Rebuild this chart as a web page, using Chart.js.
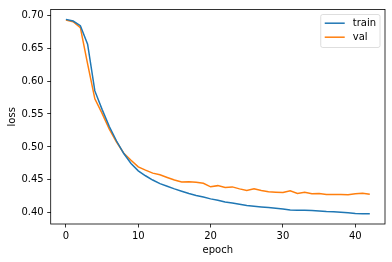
<!DOCTYPE html>
<html>
<head>
<meta charset="utf-8">
<script src="https://cdn.jsdelivr.net/npm/chart.js@4/dist/chart.umd.min.js"></script>
<style>
  html, body { margin: 0; padding: 0; background: #fff; }
  #wrap { width: 392px; height: 262px; }
</style>
</head>
<body>
<div id="wrap"><canvas id="c" width="392" height="262"></canvas></div>
<script>
const epochs = [0,1,2,3,4,5,6,7,8,9,10,11,12,13,14,15,16,17,18,19,20,21,22,23,24,25,26,27,28,29,30,31,32,33,34,35,36,37,38,39,40,41,42];
const trainLoss = [0.6935,0.691,0.684,0.656,0.585,0.557,0.531,0.509,0.490,0.4748,0.4637,0.4563,0.4498,0.4443,0.4403,0.4364,0.4328,0.4294,0.4264,0.4239,0.4212,0.419,0.4164,0.415,0.413,0.411,0.410,0.409,0.408,0.407,0.406,0.4045,0.404,0.404,0.4036,0.403,0.402,0.4015,0.401,0.400,0.399,0.3985,0.3985];
const valLoss = [0.6925,0.690,0.681,0.626,0.573,0.551,0.527,0.5075,0.4905,0.4797,0.4697,0.4648,0.4603,0.4578,0.4537,0.4498,0.4469,0.4473,0.4463,0.4448,0.4395,0.4413,0.4384,0.4394,0.4364,0.4339,0.4364,0.4339,0.4319,0.4313,0.4309,0.4334,0.4294,0.4313,0.429,0.4294,0.4279,0.4279,0.4279,0.4275,0.429,0.4299,0.4284];
const seriesNames = ['train', 'val'];
const xTickValues = [0, 10, 20, 30, 40];
const yTickValues = [0.40, 0.45, 0.50, 0.55, 0.60, 0.65, 0.70];
const xTitle = 'epoch';
const yTitle = 'loss';

Chart.defaults.font.family = '"DejaVu Sans", sans-serif';
Chart.defaults.font.size = 10;
Chart.defaults.color = '#000';

const frameAndLegend = {
  id: 'frameAndLegend',
  afterDatasetsDraw(chart) {
    const ctx = chart.ctx;
    const a = chart.chartArea;
    ctx.save();
    // frame
    ctx.strokeStyle = '#000';
    ctx.lineWidth = 0.8;
    ctx.strokeRect(a.left, a.top, a.right - a.left, a.bottom - a.top);
    // legend
    ctx.font = '10px "DejaVu Sans", sans-serif';
    const ds = chart.data.datasets;
    let maxW = 0;
    ds.forEach(d => { maxW = Math.max(maxW, ctx.measureText(d.label).width); });
    const pad = 4, handle = 20, gap = 8, rowH = 14;
    const w = pad + handle + gap + maxW + pad;
    const h = 33;
    const x0 = a.right - 5 - w;
    const y0 = a.top + 5;
    ctx.beginPath();
    const r = 2;
    ctx.moveTo(x0 + r, y0);
    ctx.lineTo(x0 + w - r, y0);
    ctx.quadraticCurveTo(x0 + w, y0, x0 + w, y0 + r);
    ctx.lineTo(x0 + w, y0 + h - r);
    ctx.quadraticCurveTo(x0 + w, y0 + h, x0 + w - r, y0 + h);
    ctx.lineTo(x0 + r, y0 + h);
    ctx.quadraticCurveTo(x0, y0 + h, x0, y0 + h - r);
    ctx.lineTo(x0, y0 + r);
    ctx.quadraticCurveTo(x0, y0, x0 + r, y0);
    ctx.closePath();
    ctx.fillStyle = 'rgba(255,255,255,0.8)';
    ctx.fill();
    ctx.strokeStyle = '#d6d6d6';
    ctx.lineWidth = 0.8;
    ctx.stroke();
    ds.forEach((d, i) => {
      const cy = y0 + 8.7 + i * rowH;
      ctx.strokeStyle = d.borderColor;
      ctx.lineWidth = 1.5;
      ctx.beginPath();
      ctx.moveTo(x0 + pad, cy);
      ctx.lineTo(x0 + pad + handle, cy);
      ctx.stroke();
      ctx.fillStyle = '#000';
      ctx.textBaseline = 'middle';
      ctx.textAlign = 'left';
      ctx.fillText(d.label, x0 + pad + handle + gap, cy);
    });
    ctx.restore();
  }
};

new Chart(document.getElementById('c'), {
  type: 'line',
  data: {
    datasets: [
      { label: seriesNames[0], data: epochs.map((e, i) => ({ x: e, y: trainLoss[i] })), borderColor: '#1f77b4', backgroundColor: '#1f77b4', borderWidth: 1.5, pointRadius: 0, tension: 0, fill: false },
      { label: seriesNames[1], data: epochs.map((e, i) => ({ x: e, y: valLoss[i] })), borderColor: '#ff7f0e', backgroundColor: '#ff7f0e', borderWidth: 1.5, pointRadius: 0, tension: 0, fill: false }
    ]
  },
  options: {
    responsive: false,
    animation: false,
    devicePixelRatio: 1,
    layout: { padding: { left: 0, top: 6, right: 7, bottom: 0 } },
    plugins: { legend: { display: false }, tooltip: { enabled: false } },
    scales: {
      x: {
        type: 'linear',
        min: -2.1,
        max: 44.1,
        afterBuildTicks: s => { s.ticks = xTickValues.map(v => ({ value: v })); },
        afterFit: s => { s.height = 38; },
        ticks: { padding: 3, maxRotation: 0, autoSkip: false, color: '#000', callback: v => String(v) },
        grid: { display: true, drawOnChartArea: false, drawTicks: true, tickLength: 3.5, tickWidth: 0.8, tickColor: '#000' },
        border: { display: false },
        title: { display: true, text: xTitle, color: '#000', padding: { top: 0, bottom: 6 }, font: { size: 10 } }
      },
      y: {
        type: 'linear',
        min: 0.3831,
        max: 0.7085,
        afterBuildTicks: s => { s.ticks = yTickValues.map(v => ({ value: v })); },
        afterFit: s => { s.width = 50.7; },
        ticks: { padding: 3.5, autoSkip: false, color: '#000', callback: v => v.toFixed(2) },
        grid: { display: true, drawOnChartArea: false, drawTicks: true, tickLength: 3.5, tickWidth: 0.8, tickColor: '#000' },
        border: { display: false },
        title: { display: true, text: yTitle, color: '#000', padding: { top: 6, bottom: 0 }, font: { size: 10 } }
      }
    }
  },
  plugins: [frameAndLegend]
});
</script>
</body>
</html>
